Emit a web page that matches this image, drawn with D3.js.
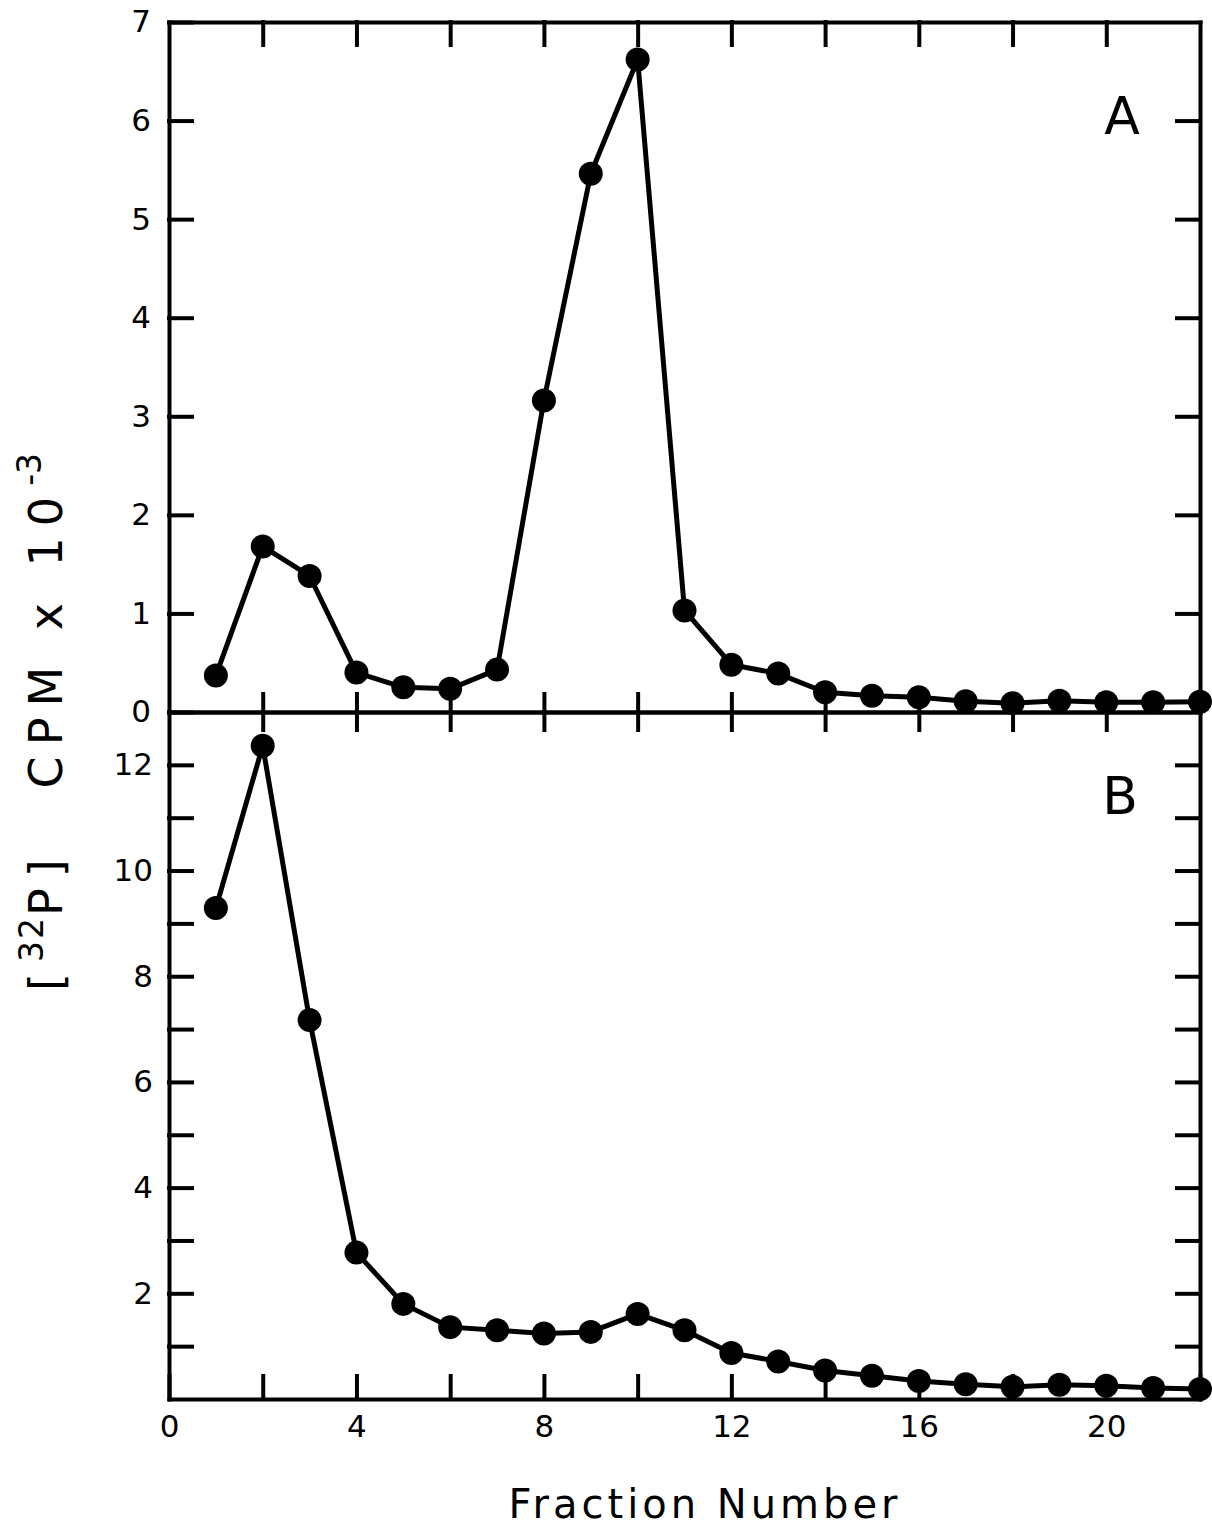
<!DOCTYPE html>
<html lang="en">
<head>
    <title>Fraction profile</title>
    <style>
        body {
            margin: 0;
            padding: 0;
            background: #fff;
        }
        svg text {
            font-family: "DejaVu Sans", Arial, sans-serif;
            fill: #000;
        }
        .axis path, .axis line {
            stroke: #000;
            stroke-width: 4;
            stroke-linecap: square;
        }
        .axis text {
            font-size: 31px;
        }
    </style>
    <script src="https://d3js.org/d3.v7.min.js"></script>
</head>
<body>
    <div id="chart"></div>

    <script>
        // Fraction numbers 1..22
        const fractions = [1, 2, 3, 4, 5, 6, 7, 8, 9, 10, 11, 12, 13, 14, 15, 16, 17, 18, 19, 20, 21, 22];

        // Panel A, CPM x 10^-3
        const cpmA = [0.37, 1.68, 1.38, 0.40, 0.25, 0.235, 0.43, 3.16, 5.46, 6.62, 1.03,
                      0.48, 0.39, 0.20, 0.165, 0.15, 0.11, 0.09, 0.115, 0.10, 0.10, 0.105];

        // Panel B, CPM x 10^-3
        const cpmB = [9.29, 12.36, 7.17, 2.77, 1.80, 1.36, 1.30, 1.24, 1.27, 1.61, 1.30,
                      0.87, 0.71, 0.54, 0.44, 0.34, 0.28, 0.23, 0.27, 0.25, 0.21, 0.19];

        const xTicks = [0, 2, 4, 6, 8, 10, 12, 14, 16, 18, 20, 22];
        const xLabels = [0, 4, 8, 12, 16, 20];
        const yTicksA = [0, 1, 2, 3, 4, 5, 6, 7];
        const yTicksB = [1, 2, 3, 4, 5, 6, 7, 8, 9, 10, 11, 12];
        const yLabelsB = [2, 4, 6, 8, 10, 12];

        const width = 1212;
        const height = 1528;
        const plotLeft = 169, plotRight = 1200, plotTop = 22, plotMid = 712, plotBottom = 1399;
        const tick = 23;

        const svg = d3.select("#chart")
            .append("svg")
            .attr("width", width)
            .attr("height", height);

        const x = d3.scaleLinear().domain([0, 22]).range([plotLeft, plotRight]);
        const yA = d3.scaleLinear().domain([0, 7]).range([plotMid, plotTop]);
        const yB = d3.scaleLinear().domain([0, 13]).range([plotBottom, plotMid]);

        // Left axes (ticks inward, labels outside)
        svg.append("g").attr("class", "axis")
            .attr("transform", `translate(${plotLeft},0)`)
            .call(d3.axisLeft(yA).tickValues(yTicksA).tickSize(-tick).tickSizeOuter(0).tickPadding(18)
                .tickFormat(d3.format("d")));

        svg.append("g").attr("class", "axis")
            .attr("transform", `translate(${plotLeft},0)`)
            .call(d3.axisLeft(yB).tickValues(yTicksB).tickSize(-tick).tickSizeOuter(0).tickPadding(16)
                .tickFormat(d => yLabelsB.includes(d) ? d : ""));

        // Right axes (ticks only)
        svg.append("g").attr("class", "axis")
            .attr("transform", `translate(${plotRight},0)`)
            .call(d3.axisRight(yA).tickValues(yTicksA.slice(1, -1)).tickSize(-tick).tickSizeOuter(0).tickFormat(""));

        svg.append("g").attr("class", "axis")
            .attr("transform", `translate(${plotRight},0)`)
            .call(d3.axisRight(yB).tickValues(yTicksB).tickSize(-tick).tickSizeOuter(0).tickFormat(""));

        // Top axis
        svg.append("g").attr("class", "axis")
            .attr("transform", `translate(0,${plotTop})`)
            .call(d3.axisTop(x).tickValues(xTicks.slice(1, -1)).tickSize(-tick).tickSizeOuter(0).tickFormat(""));

        // Middle axis, ticks into both panels
        svg.append("g").attr("class", "axis")
            .attr("transform", `translate(0,${plotMid})`)
            .call(d3.axisBottom(x).tickValues(xTicks.slice(1, -1)).tickSize(-18).tickSizeOuter(0).tickFormat(""));
        svg.append("g").attr("class", "axis")
            .attr("transform", `translate(0,${plotMid})`)
            .call(d3.axisTop(x).tickValues(xTicks.slice(1, -1)).tickSize(-18).tickSizeOuter(0).tickFormat(""));

        // Bottom axis
        svg.append("g").attr("class", "axis")
            .attr("transform", `translate(0,${plotBottom})`)
            .call(d3.axisBottom(x).tickValues(xTicks).tickSize(-tick).tickSizeOuter(0).tickPadding(16)
                .tickFormat(d => xLabels.includes(d) ? d : ""));

        // Series
        const lineA = d3.line().x((d, i) => x(fractions[i])).y(d => yA(d));
        const lineB = d3.line().x((d, i) => x(fractions[i])).y(d => yB(d));

        [[cpmA, lineA, yA], [cpmB, lineB, yB]].forEach(([vals, line, y]) => {
            svg.append("path")
                .datum(vals)
                .attr("d", line)
                .attr("fill", "none")
                .attr("stroke", "#000")
                .attr("stroke-width", 5)
                .attr("stroke-linejoin", "round");

            svg.selectAll(null)
                .data(vals)
                .enter()
                .append("circle")
                .attr("cx", (d, i) => x(fractions[i]))
                .attr("cy", d => y(d))
                .attr("r", 12)
                .attr("fill", "#000");
        });

        // Panel letters
        svg.append("text")
            .attr("x", 1122).attr("y", 96)
            .attr("text-anchor", "middle")
            .attr("dominant-baseline", "hanging")
            .style("font-size", "52px")
            .text("A");

        svg.append("text")
            .attr("x", 1120).attr("y", 776)
            .attr("text-anchor", "middle")
            .attr("dominant-baseline", "hanging")
            .style("font-size", "52px")
            .text("B");

        // X axis title
        svg.append("text")
            .attr("x", 705).attr("y", 1518)
            .attr("text-anchor", "middle")
            .style("font-size", "40px")
            .style("letter-spacing", "4px")
            .text("Fraction Number");

        // Y axis title
        const yt = svg.append("text")
            .attr("transform", "translate(62,722) rotate(-90)")
            .attr("text-anchor", "middle")
            .style("font-size", "46px")
            .style("letter-spacing", "11px");
        yt.append("tspan").text("[");
        yt.append("tspan").attr("dy", -19).style("font-size", "33px").style("letter-spacing", "2px").text("32");
        yt.append("tspan").attr("dy", 19).text("P]");
        yt.append("tspan").attr("dx", 60).text("CPM x 10");
        yt.append("tspan").attr("dy", -21).style("font-size", "33px").style("letter-spacing", "0px").text("-3");
    </script>
</body>
</html>
